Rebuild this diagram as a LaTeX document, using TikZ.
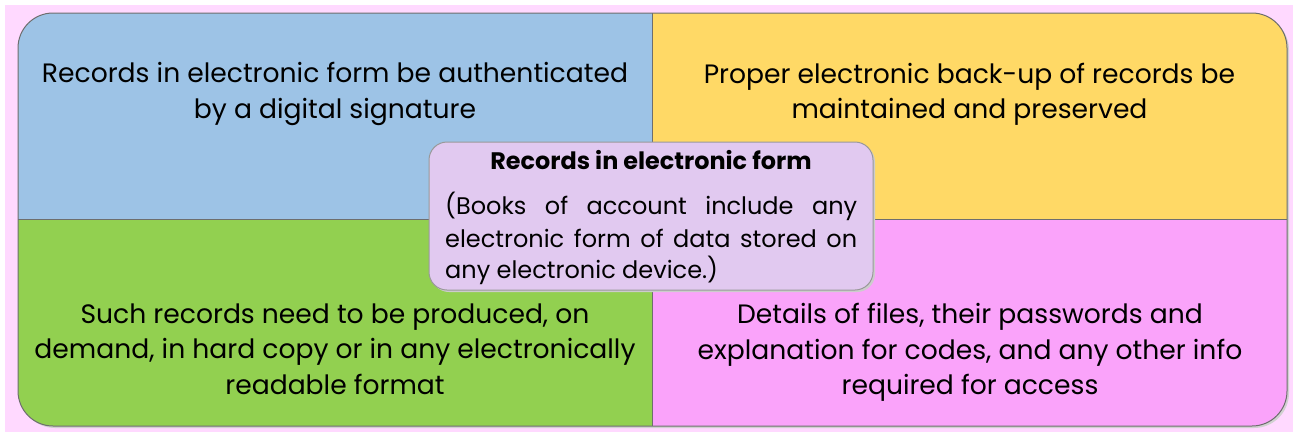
\documentclass[tikz,border=0pt]{standalone}
\usepackage{fontspec}
\setmainfont{Poppins}
\definecolor{bgpink}{HTML}{FFD9FF}
\definecolor{qblue}{HTML}{9DC3E6}
\definecolor{qyellow}{HTML}{FFD966}
\definecolor{qgreen}{HTML}{92D050}
\definecolor{qpink}{HTML}{FAA3FA}
\definecolor{lav}{HTML}{E1C9F0}
\definecolor{edge}{HTML}{6E6E6E}
\tikzset{
  qtext/.style={align=center, font=\fontsize{26.6}{35.3}\selectfont, inner sep=0pt},
  ctext/.style={font=\fontsize{24}{32}\selectfont, inner sep=0pt, anchor=west},
}
\begin{document}
\begin{tikzpicture}[x=1pt,y=-1pt]
\useasboundingbox (0,0) rectangle (1293,432);
\fill[white] (0,0) rectangle (1293,432);
\fill[bgpink] (5,5) rectangle (1293,432);
% shadow
\fill[black!18, rounded corners=35pt] (20,15) rectangle (1289,428);
\begin{scope}
\clip[rounded corners=35pt] (18,13) rectangle (1287,426);
\fill[qblue] (18,13) rectangle (652,219);
\fill[qyellow] (652,13) rectangle (1287,219);
\fill[qgreen] (18,219) rectangle (652,426);
\fill[qpink] (652,219) rectangle (1287,426);
\end{scope}
\draw[edge, line width=1pt] (652,13) -- (652,426);
\draw[edge, line width=1pt] (18,219) -- (1287,219);
\draw[edge, line width=1pt, rounded corners=35pt] (18,13) rectangle (1287,426);

\node[qtext] (tl) at (335,94) {Records in electronic form be authenticated\\by a digital signature};
\node[qtext] (tr) at (969.5,94) {Proper electronic back-up of records be\\maintained and preserved};
\node[qtext] (bl) at (335,349) {Such records need to be produced, on\\demand, in hard copy or in any electronically\\readable format};
\node[qtext] (br) at (970,352.5) {Details of files, their passwords and\\explanation for codes, and any other info\\required for access};

\fill[black!20, rounded corners=18pt] (431,144) rectangle (875,292);
\node[draw=black!40, line width=1pt, fill=lav, rounded corners=18pt, minimum width=444pt, minimum height=148pt, inner sep=0pt] (box) at (651,216) {};
\node[font=\fontsize{23.9}{28}\selectfont\bfseries, inner sep=0pt] (title) at (651,160) {Records in electronic form};
\node[ctext] (c1) at (445,206) {\makebox[412pt][s]{(Books of account include any}};
\node[ctext] (c2) at (445,238) {\makebox[412pt][s]{electronic form of data stored on}};
\node[ctext] (c3) at (445,270) {any electronic device.)};
\end{tikzpicture}
\end{document}
